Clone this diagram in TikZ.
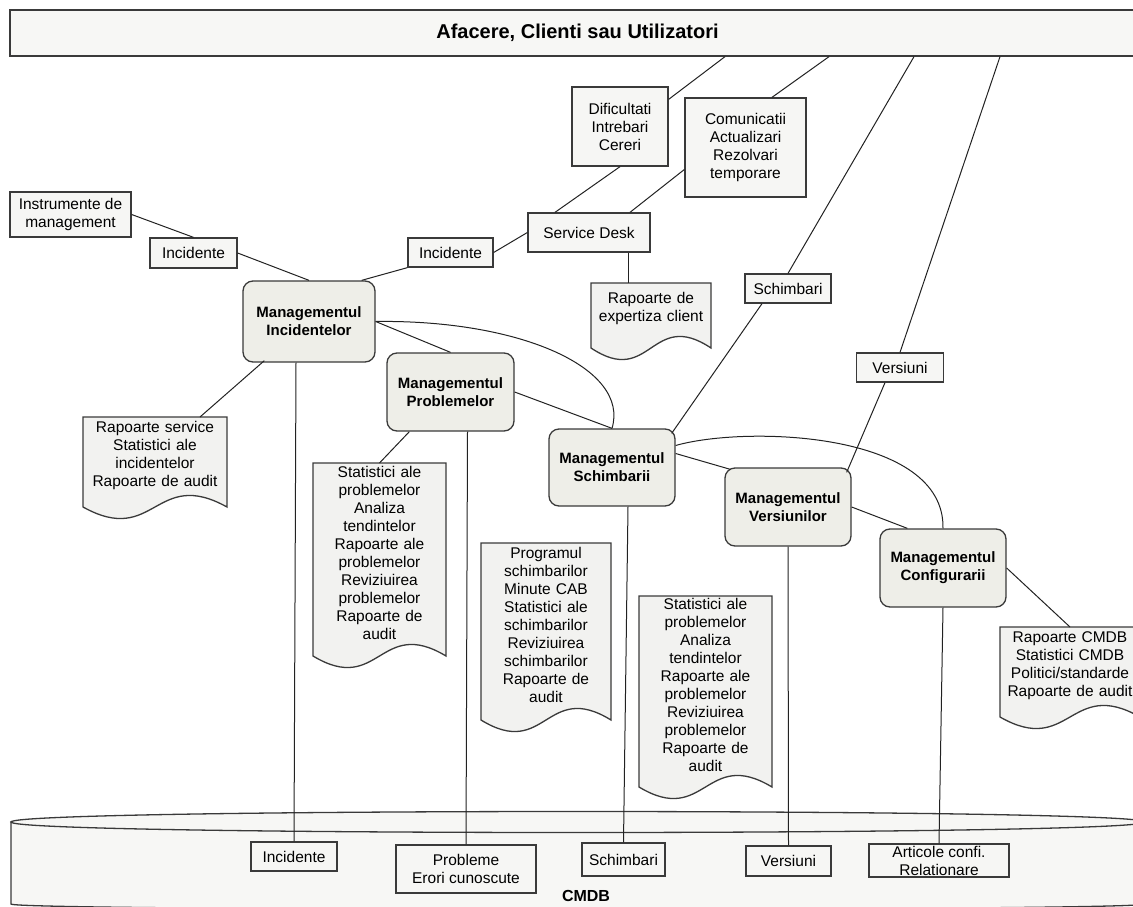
\documentclass[tikz,border=0pt]{standalone}
\usepackage{fontspec}
\setmainfont{Liberation Sans}
\usepackage{tikz}
\usetikzlibrary{positioning,calc}
\definecolor{linie}{HTML}{222222}
\definecolor{bordura}{HTML}{3A3A3A}
\definecolor{cutie}{HTML}{F6F6F4}
\definecolor{fillmg}{HTML}{EEEEE8}
\definecolor{docum}{HTML}{F2F2F0}
\definecolor{banda}{HTML}{F7F7F5}

% document cu marginea de jos ondulata: nume, x stanga, sus, latime, inaltime, text
\newcommand{\docnode}[6]{%
  \pgfmathsetmacro{\docr}{#2+#4}%
  \pgfmathsetmacro{\docb}{#3+#5}%
  \pgfmathsetmacro{\docm}{#2+#4/2}%
  \pgfmathsetmacro{\dochgt}{#5-14}%
  \filldraw[doc] (#2,#3) -- (\docr,#3) -- (\docr,\docb)
    .. controls (\docm,\docb-40) and (\docm,\docb+40) .. (#2,\docb) -- cycle;
  \node[doctext, text width=#4pt, minimum height=\dochgt pt, anchor=north] (#1) at (\docm,#3) {#6};
}

\begin{document}
\begin{tikzpicture}[x=1pt, y=-1pt, font=\fontsize{15.5}{18}\selectfont,
    lbl/.style={draw=bordura, fill=cutie, line width=1.3pt, inner sep=0pt, align=center},
    mgmt/.style={lbl, fill=fillmg, rounded corners=10pt, font=\fontsize{15}{18}\selectfont\bfseries},
    doc/.style={draw=bordura, fill=docum, line width=1.3pt},
    doctext/.style={inner sep=0pt, align=center},
    con/.style={draw=linie, line width=1pt}]
    \path[use as bounding box, clip] (0,0) rectangle (1133,907);

    % Banda CMDB
    \filldraw[draw=bordura, fill=banda, line width=1.3pt] (11,822) -- (11,904)
      .. controls (11,911) and (1145,911) .. (1145,904) -- (1145,822) -- cycle;
    \filldraw[draw=bordura, fill=banda, line width=1.3pt] (11,822)
      .. controls (11,808) and (1145,808) .. (1145,822)
      .. controls (1145,836) and (11,836) .. (11,822) -- cycle;
    \node[font=\fontsize{16}{18}\selectfont\bfseries] (cmdb) at (586,896) {CMDB};

    % Banda superioara
    \node[lbl, fill=banda, minimum width=1135, minimum height=46,
      font=\fontsize{20}{24}\selectfont\bfseries] (afacere) at (577.5,33) {Afacere, Clienti sau Utilizatori};

    % Service Desk
    \node[lbl, minimum width=96, minimum height=79] (dif) at (620,126.5) {Dificultati\\Intrebari\\Cereri};
    \node[lbl, minimum width=121, minimum height=99] (com) at (745.5,147.5) {Comunicatii\\Actualizari\\Rezolvari\\temporare};
    \node[lbl, minimum width=122, minimum height=39] (sd) at (589,232.5) {Service Desk};
    \node[lbl, minimum width=85, minimum height=29] (inc2) at (450.5,252.5) {Incidente};
    \node[lbl, minimum width=87, minimum height=30] (inc1) at (193.5,253) {Incidente};
    \node[lbl, minimum width=121, minimum height=45] (instr) at (70.5,214.5) {Instrumente de\\management};
    \node[lbl, minimum width=86, minimum height=29] (schb) at (788,288.5) {Schimbari};
    \node[lbl, minimum width=87, minimum height=29] (vers) at (900,367.5) {Versiuni};

    % Procese
    \node[mgmt, minimum width=132, minimum height=81] (mi) at (309,321.5) {Managementul\\Incidentelor};
    \node[mgmt, minimum width=127, minimum height=78] (mp) at (450.5,392) {Managementul\\Problemelor};
    \node[mgmt, minimum width=126, minimum height=77] (msch) at (612,467.5) {Managementul\\Schimbarii};
    \node[mgmt, minimum width=126, minimum height=78] (mv) at (788,507) {Managementul\\Versiunilor};
    \node[mgmt, minimum width=126, minimum height=78] (mc) at (943,568) {Managementul\\Configurarii};

    % Rapoarte
    \docnode{ed}{591}{283}{120}{65}{Rapoarte de\\expertiza client}
    \docnode{rs}{83}{417}{144}{90}{Rapoarte service\\Statistici ale\\incidentelor\\Rapoarte de audit}
    \docnode{ps}{313}{463}{133}{193}{Statistici ale\\problemelor\\Analiza\\tendintelor\\Rapoarte ale\\problemelor\\Reviziuirea\\problemelor\\Rapoarte de\\audit}
    \docnode{ss}{481}{543}{130}{177}{Programul\\schimbarilor\\Minute CAB\\Statistici ale\\schimbarilor\\Reviziuirea\\schimbarilor\\Rapoarte de\\audit}
    \docnode{vs}{639}{596}{133}{191}{Statistici ale\\problemelor\\Analiza\\tendintelor\\Rapoarte ale\\problemelor\\Reviziuirea\\problemelor\\Rapoarte de\\audit}
    \docnode{cd}{1000}{627}{140}{90}{Rapoarte CMDB\\Statistici CMDB\\Politici/standarde\\Rapoarte de audit}

    % Inregistrari CMDB
    \node[lbl, minimum width=86, minimum height=29] (ci) at (294,856.5) {Incidente};
    \node[lbl, minimum width=140, minimum height=48] (cp) at (466,869) {Probleme\\Erori cunoscute};
    \node[lbl, minimum width=83, minimum height=33] (cs) at (623.5,859.5) {Schimbari};
    \node[lbl, minimum width=85, minimum height=30] (cv) at (788.5,861) {Versiuni};
    \node[lbl, minimum width=140, minimum height=33] (ca) at (939,860.5) {Articole confi.\\Relationare};

    % Legaturi de sus
    \draw[con] ([xshift=147.5]afacere.south) -- ([yshift=-13]dif.north east);
    \draw[con] ([xshift=251.5]afacere.south) -- ([xshift=26.5]com.north);
    \draw[con] ([xshift=336.5]afacere.south) -- (schb.north);
    \draw[con] ([xshift=-26]schb.south) -- ([xshift=-4,yshift=-5]msch.north east);
    \draw[con] ([xshift=422.5]afacere.south) -- (vers.north);
    \draw[con] ([xshift=-15]vers.south) -- ([xshift=-5,yshift=-5]mv.north east);
    \draw[con] (dif.south) -- ([xshift=-34]sd.north);
    \draw[con] ([yshift=-22]com.west) -- ([xshift=41]sd.north);
    \draw[con] (sd.west) -- (inc2.east);
    \draw[con] (inc2.south west) -- ([xshift=-14]mi.north east);
    \draw[con] (instr.east) -- (inc1.north);
    \draw[con] (inc1.east) -- (mi.north);
    \draw[con] ([xshift=39]sd.south) -- ([xshift=-23]ed.north);

    % Legaturi intre procese
    \draw[con] (mi.east) -- (mp.north);
    \draw[con] (mi.east) .. controls +(145,-2) and +(18,-60) .. (msch.north);
    \draw[con] (mp.east) -- (msch.north);
    \draw[con] ([yshift=22]msch.east) .. controls +(70,-20) and +(2,-97) .. (mc.north);
    \draw[con] ([yshift=14]msch.east) -- ([xshift=6,yshift=-2]mv.north west);
    \draw[con] (mv.east) -- ([xshift=28]mc.north west);

    % Catre rapoarte
    \draw[con] ([xshift=22,yshift=2]mi.south west) -- ([xshift=45]rs.north);
    \draw[con] ([xshift=23]mp.south west) -- (ps.north);
    \draw[con] (mc.east) -- (cd.north);

    % Catre CMDB
    \draw[con] ([xshift=-13]mi.south) -- (ci.north);
    \draw[con] ([xshift=17]mp.south) -- (cp.north);
    \draw[con] ([xshift=16]msch.south) -- (cs.north);
    \draw[con] (mv.south) -- (cv.north);
    \draw[con] (mc.south) -- (ca.north);
\end{tikzpicture}
\end{document}
